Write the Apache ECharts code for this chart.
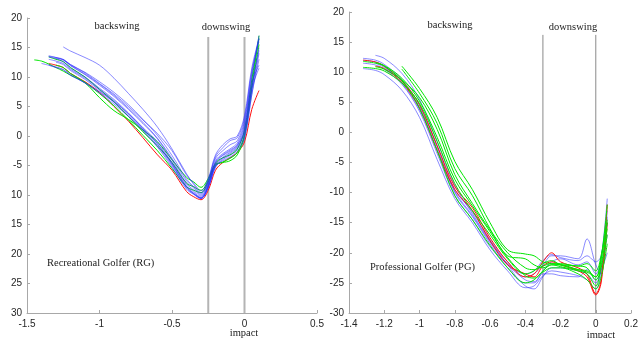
<!DOCTYPE html>
<html><head><meta charset="utf-8">
<script src="https://cdn.jsdelivr.net/npm/echarts@6/dist/echarts.min.js"></script>
<style>html,body{margin:0;padding:0;background:#fff;overflow:hidden}#c{width:641px;height:338px}</style>
</head><body><div id="c"></div>
<script>
// ---------- Left panel: Recreational Golfer (RG) ----------
const LX = [-1.45,-1.4,-1.35,-1.3,-1.25,-1.2,-1.1,-1.0,-0.9,-0.8,-0.7,-0.6,-0.5,-0.4,-0.35,-0.3,-0.25,-0.2,-0.15,-0.1,-0.05,0,0.05,0.1];
const n = null;
const leftBlue = [
  [n,n,n,n,15.1,14.4,13.3,12.0,9.8,7.2,4.5,1.5,-2.2,-6.4,-8.2,-9.6,-7.5,-3.8,-2.5,-1.5,-0.8,2.5,10.5,16.5],
  [n,n,13.6,13.3,12.9,12.0,10.5,8.8,6.9,4.7,2.3,-0.4,-3.8,-7.6,-8.8,-10.0,-8.0,-4.2,-3.0,-2.2,-1.2,2.0,10.0,17.0],
  [n,n,13.4,13.1,12.6,11.5,10.0,8.1,6.2,3.9,1.4,-1.0,-4.5,-8.3,-9.5,-10.4,-8.3,-4.6,-3.3,-2.6,-1.6,1.0,8.5,15.0],
  [n,12.3,12.0,11.7,11.3,10.4,9.0,7.3,5.4,3.3,1.0,-1.7,-5.0,-8.8,-9.8,-10.5,-8.5,-5.0,-3.8,-3.0,-2.0,0.5,8.0,14.5],
  [n,n,13.5,13.3,13.0,12.1,10.8,9.2,7.4,5.3,2.8,0.1,-3.3,-7.3,-8.6,-9.8,-7.6,-3.5,-2.0,-0.8,-0.3,3.0,11.0,16.0],
  [n,n,12.0,11.6,11.2,10.3,9.0,7.5,5.8,3.8,1.3,-1.4,-4.7,-8.6,-9.8,-10.6,-8.8,-5.3,-4.0,-3.3,-2.3,0.0,7.0,13.0],
  [n,n,n,13.2,12.9,11.9,10.4,8.6,6.7,4.5,2.1,-0.5,-4.1,-8.0,-9.2,-10.2,-8.2,-4.4,-3.2,-2.4,-1.5,1.5,9.0,12.0],
  [n,n,13.0,12.7,12.3,11.3,9.8,7.9,6.0,3.7,1.2,-1.3,-4.8,-8.6,-9.7,-10.5,-8.6,-4.9,-3.6,-2.8,-1.8,0.8,8.0,11.5],
  [n,n,n,n,13.0,12.1,10.7,8.9,7.1,5.0,2.7,0.4,-2.5,-6.6,-8.0,-9.3,-7.2,-3.2,-1.5,-0.5,0.0,3.5,11.5,16.5],
  [n,n,n,12.5,12.1,11.1,9.6,7.7,5.7,3.4,0.9,-1.9,-5.3,-9.0,-9.9,-10.6,-8.7,-5.2,-4.2,-3.6,-2.6,-0.5,7.0,14.0]
];
const leftGreen = [
  [12.9,12.7,12.2,11.6,11.0,10.3,9.0,6.5,4.3,2.8,1.0,-1.0,-4.0,-7.0,-7.8,-8.7,-7.2,-4.8,-4.5,-4.2,-3.2,0.0,8.5,17.0],
  [n,n,13.4,13.0,12.6,11.6,10.0,7.9,5.8,3.3,0.7,-1.7,-4.5,-8.0,-8.6,-9.2,-7.5,-4.6,-3.7,-3.2,-2.2,1.0,9.5,16.5],
  [n,n,n,12.0,11.6,10.6,9.1,7.2,5.1,2.7,0.1,-2.5,-5.5,-8.6,-9.2,-9.6,-7.8,-5.0,-4.4,-3.8,-2.8,0.2,8.0,15.5]
];
const leftRed = [
  [n,n,12.3,12.0,11.6,10.6,9.2,7.4,5.0,2.5,-0.3,-3.2,-5.8,-9.4,-10.3,-10.8,-9.2,-5.8,-4.5,-3.7,-2.8,-1.0,4.5,7.7]
];
const leftPhaseX = [-0.25, 0];
const leftXTicks = {min:-1.5, max:0.5, interval:0.5};

// ---------- Right panel: Professional Golfer (PG) ----------
const RX = [-1.32,-1.25,-1.2,-1.1,-1.0,-0.9,-0.8,-0.7,-0.6,-0.5,-0.4,-0.35,-0.3,-0.25,-0.2,-0.1,-0.05,0,0.03,0.065];
const rightBlue = [
  [12.3,12.0,11.3,8.8,4.5,-2.5,-10.0,-14.0,-18.5,-22.5,-25.5,-26.0,-24.0,-22.5,-22.5,-23.0,-23.5,-25.0,-22.5,-15.0],
  [10.6,10.3,9.6,7.0,2.5,-4.5,-11.0,-15.0,-19.5,-23.0,-25.8,-25.5,-23.8,-23.0,-23.2,-23.8,-24.5,-26.0,-23.0,-17.0],
  [n,12.8,12.3,9.8,5.5,-1.5,-8.8,-13.5,-18.0,-21.5,-24.0,-23.5,-22.0,-20.5,-20.5,-21.0,-17.7,-22.0,-23.5,-14.0],
  [11.5,11.2,10.5,8.0,3.5,-3.5,-10.5,-14.5,-19.0,-22.0,-24.5,-24.8,-23.0,-21.5,-21.0,-22.0,-21.5,-23.5,-21.0,-11.0],
  [12.0,11.7,11.0,8.2,3.8,-3.0,-9.8,-13.8,-18.2,-21.8,-23.5,-23.0,-21.3,-20.3,-20.8,-21.3,-20.5,-21.5,-20.5,-13.0],
  [n,11.5,10.8,8.5,4.2,-2.2,-9.5,-13.2,-17.8,-22.0,-25.0,-25.0,-23.5,-23.5,-23.8,-24.0,-22.8,-24.5,-23.0,-20.0]
];
const rightGreen = [
  [n,n,n,11.0,7.3,2.5,-4.8,-9.5,-15.0,-19.5,-20.2,-20.5,-21.5,-21.8,-22.0,-22.2,-22.5,-24.5,-22.5,-17.0],
  [n,n,n,10.5,6.5,1.5,-6.0,-10.5,-16.0,-20.5,-21.0,-22.0,-22.5,-22.0,-22.0,-22.8,-23.0,-24.0,-21.0,-12.0],
  [11.8,11.5,11.0,8.6,4.0,-3.0,-10.5,-14.5,-18.8,-22.5,-25.0,-24.5,-23.0,-22.0,-22.3,-23.0,-23.5,-25.5,-22.0,-16.0],
  [10.8,10.6,10.2,8.2,4.8,-1.5,-8.5,-13.0,-17.0,-21.0,-23.5,-23.0,-21.8,-21.3,-22.0,-22.8,-23.2,-24.0,-21.0,-14.5],
  [n,11.6,11.1,9.0,5.2,-0.8,-7.8,-12.2,-16.5,-20.8,-23.8,-24.2,-23.2,-22.5,-22.5,-23.5,-24.5,-26.0,-24.0,-18.5],
  [n,10.9,10.5,8.7,5.8,0.5,-7.0,-11.8,-16.2,-20.0,-22.5,-22.8,-22.2,-21.8,-21.8,-22.2,-21.8,-23.0,-20.5,-15.0]
];
const rightRed = [
  [12.0,11.7,11.0,8.6,4.6,-2.2,-9.0,-12.5,-17.5,-21.5,-24.0,-23.5,-21.5,-20.0,-21.5,-22.5,-23.5,-26.8,-24.5,-12.0],
  [n,11.0,10.6,8.3,4.0,-3.0,-9.5,-13.0,-18.0,-22.0,-23.5,-24.0,-22.2,-21.5,-22.0,-23.0,-24.0,-27.0,-25.0,-15.0]
];
const rightPhaseX = [-0.3, 0];
const rightXTicks = {min:-1.4, max:0.2, interval:0.2};
const yTicks = {min:-30, max:20, interval:5};
const phaseTop = [16.8, 16.2];

const chart = echarts.init(document.getElementById('c'), null, {renderer:'canvas'});
const BLUE = 'rgba(40,40,255,0.55)', GREEN = '#00e600', RED = '#ff1010';

function curve(xs, ys, color, idx){
  return {type:'line', xAxisIndex:idx, yAxisIndex:idx, smooth:0.35, showSymbol:false, silent:true,
    data: xs.map((x,i)=>[x, ys[i]]).filter(p=>p[1]!==null),
    lineStyle:{width:1, color:color}, z:2};
}
function vline(x, top, idx, color, w){
  return {type:'line', xAxisIndex:idx, yAxisIndex:idx, showSymbol:false, silent:true,
    data:[[x, yTicks.min],[x, top]], lineStyle:{width:w, color:color}, z:1};
}
const series = [];
leftPhaseX.forEach(x=>series.push(vline(x, phaseTop[0], 0, '#b4b4b4', 2)));
rightPhaseX.forEach(x=>series.push(vline(x, phaseTop[1], 1, '#8a8a8a', 1)));
leftRed.forEach(y=>series.push(curve(LX, y, RED, 0)));
leftGreen.forEach(y=>series.push(curve(LX, y, GREEN, 0)));
leftBlue.forEach(y=>series.push(curve(LX, y, BLUE, 0)));
rightBlue.forEach(y=>series.push(curve(RX, y, BLUE, 1)));
rightRed.forEach(y=>series.push(curve(RX, y, RED, 1)));
rightGreen.forEach(y=>series.push(curve(RX, y, GREEN, 1)));

const axisLabel = {color:'#262626', fontSize:10, fontFamily:'Liberation Sans, Arial, sans-serif'};
const axisLine = {onZero:false, lineStyle:{color:'#a8a8a8', width:1}};
const axisTick = {inside:true, length:3, lineStyle:{color:'#a8a8a8'}};
function xAx(t, idx){
  return {type:'value', gridIndex:idx, min:t.min, max:t.max, interval:t.interval,
    axisLine:axisLine, axisTick:axisTick, splitLine:{show:false},
    axisLabel:Object.assign({margin:6}, axisLabel)};
}
function yAx(idx, fmt){
  return {type:'value', gridIndex:idx, min:yTicks.min, max:yTicks.max, interval:yTicks.interval,
    axisLine:axisLine, axisTick:axisTick, splitLine:{show:false},
    axisLabel:Object.assign({margin:5, formatter:fmt}, axisLabel)};
}
const serif = 'Liberation Serif, Times New Roman, serif';
function txt(x, y, s, align){
  return {type:'text', x:x, y:y, style:{text:s, fill:'#222', font:'10.5px ' + serif, textAlign:align||'center', textVerticalAlign:'middle'}, z:10};
}
chart.setOption({
  animation:false,
  backgroundColor:'#fff',
  grid:[
    {left:27, right:324, top:18, bottom:25},
    {left:349, right:4, top:12, bottom:25}
  ],
  xAxis:[xAx(leftXTicks,0), xAx(rightXTicks,1)],
  yAxis:[
    yAx(0, v => v <= -10 ? String(-v) : String(v)),
    yAx(1, v => String(v))
  ],
  series: series,
  graphic:[
    txt(117, 26, 'backswing'),
    txt(226, 27, 'downswing'),
    txt(47, 263, 'Recreational Golfer (RG)', 'left'),
    txt(244, 333, 'impact'),
    txt(450, 25, 'backswing'),
    txt(573, 27, 'downswing'),
    txt(370, 267, 'Professional Golfer (PG)', 'left'),
    txt(601, 335, 'impact')
  ]
});
</script></body></html>
